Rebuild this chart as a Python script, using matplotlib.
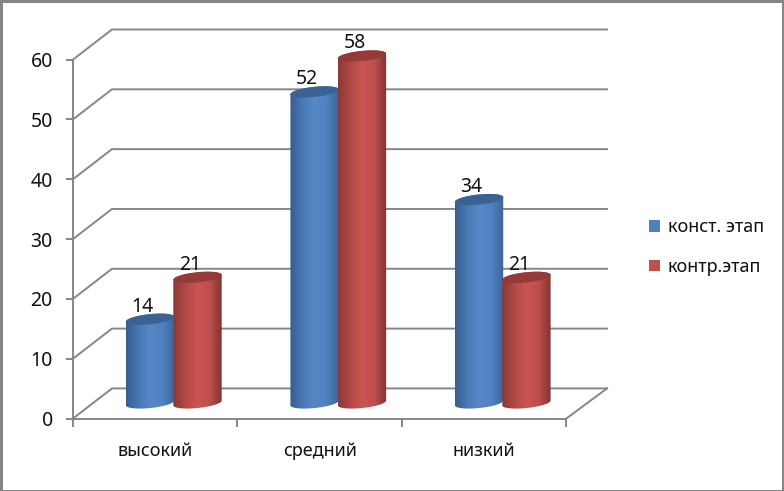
import numpy as np
import matplotlib
matplotlib.use("Agg")
import matplotlib.pyplot as plt
from matplotlib.colors import LinearSegmentedColormap
from matplotlib.patches import Patch, PathPatch, Polygon, Rectangle
from matplotlib.path import Path

plt.rcParams['font.family'] = ['Noto Sans', 'DejaVu Sans']

categories = ['высокий', 'средний', 'низкий']
konst_values = [14, 52, 34]
kontr_values = [21, 58, 21]
series_names = ['конст. этап', 'контр.этап']
y_ticks = [0, 10, 20, 30, 40, 50, 60]

W, H = 784, 491
GREY = '#868686'
TXT = '#111111'

# wall offset and cylinder shape, in data units
depth_x = 0.237
depth_y = 5.03
base_y = 2.6
half_w = 0.147
ell_b = 0.85
ell_tilt = 0.4
center_shift = 0.613

blue_grad = LinearSegmentedColormap.from_list('b', ['#365f91', '#4a78b3', '#5687c8', '#5082c0', '#3c6699'])
red_grad = LinearSegmentedColormap.from_list('r', ['#8a3937', '#b04946', '#cb5451', '#bd4f4c', '#813533'])
blue_top = '#3a6394'
red_top = '#953a38'


def ellipse_xy(cx, cy, t):
    x = cx + half_w * np.cos(t)
    y = cy + ell_b * np.sin(t) + ell_tilt * np.cos(t)
    return np.column_stack([x, y])


def cylinder(ax, cx, value, cmap, top_color, z):
    top_y = base_y + value
    low = ellipse_xy(cx, base_y, np.linspace(np.pi, 2 * np.pi, 40))
    up = ellipse_xy(cx, top_y, np.linspace(0, np.pi, 40))
    pts = np.vstack([low, up, low[:1]])
    body = PathPatch(Path(pts), fc='none', ec='none', transform=ax.transData)
    ax.add_patch(body)
    grad = np.linspace(0, 1, 64).reshape(1, -1)
    im = ax.imshow(grad, cmap=cmap, aspect='auto', zorder=z,
                   extent=[cx - half_w, cx + half_w, base_y - 2, top_y + 2])
    im.set_clip_path(body)
    ax.add_patch(Polygon(ellipse_xy(cx, top_y, np.linspace(0, 2 * np.pi, 80)),
                         fc=top_color, ec='none', zorder=z + 0.1))
    ax.text(cx - 0.045, top_y + 2.1, str(value), ha='center', va='center', fontsize=14,
            color=TXT, zorder=10)


fig = plt.figure(figsize=(W / 100, H / 100), dpi=100, facecolor='white')
ax = fig.add_axes([73 / W, (H - 418.5) / H, (607 - 73) / W, (418.5 - 29.5) / H])
ax.patch.set_alpha(0)

n = len(categories)
x_max = n + depth_x + 0.01
y_max = 60 + depth_y

# walls
for v in y_ticks:
    ax.plot([0, depth_x, x_max], [v, v + depth_y, v + depth_y], color=GREY, lw=1.4,
            clip_on=False, solid_joinstyle='miter', zorder=1)
ax.plot([n, x_max], [0, depth_y], color=GREY, lw=1.4, clip_on=False, zorder=1)

for i in range(n):
    cx = i + center_shift
    cylinder(ax, cx - 0.144, konst_values[i], blue_grad, blue_top, 3)
    cylinder(ax, cx + 0.144, kontr_values[i], red_grad, red_top, 4)

ax.set_xlim(0, x_max)
ax.set_ylim(0, y_max)

for s in ['top', 'right']:
    ax.spines[s].set_visible(False)
ax.spines['left'].set_bounds(0, 60)
ax.spines['bottom'].set_bounds(0, n)
for s in ['left', 'bottom']:
    ax.spines[s].set_color(GREY)
    ax.spines[s].set_linewidth(1.4)

ax.set_yticks(y_ticks)
ax.set_xticks(range(n + 1))
ax.set_xticklabels([])
ax.set_xticks([i + 0.5 for i in range(n)], minor=True)
ax.set_xticklabels(categories, minor=True)
ax.tick_params(axis='y', length=5, width=1.4, color=GREY, labelsize=14, labelcolor=TXT, pad=9.5)
ax.tick_params(axis='x', which='major', length=5.5, width=1.4, color=GREY)
ax.tick_params(axis='x', which='minor', length=0, labelsize=13, labelcolor=TXT, pad=17)

handles = [Patch(fc='#4f81bd', ec='none'), Patch(fc='#c0504d', ec='none')]
fig.legend(handles, series_names, loc='center left', bbox_to_anchor=(633 / W, (H - 247) / H),
           frameon=False, fontsize=13, handlelength=0.62, handleheight=0.62,
           handletextpad=0.4, labelspacing=1.2, labelcolor=TXT)

# outer frame
for x0, y0, w, h in [(0, 0, 3, H), (782, 0, 2, H), (0, 0, W, 1), (0, H - 3, W, 3)]:
    fig.add_artist(Rectangle((x0 / W, y0 / H), w / W, h / H, fc=GREY, ec='none',
                             transform=fig.transFigure))

fig.savefig('out.png', dpi=100)
